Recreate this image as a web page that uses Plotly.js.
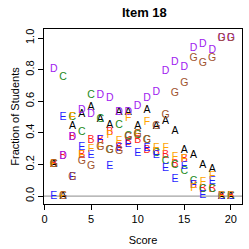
<!DOCTYPE html>
<html>
<head>
<meta charset="utf-8">
<script src="https://cdn.plot.ly/plotly-3.0.1.min.js"></script>
<style>html,body{margin:0;padding:0;background:#fff;}#chart{width:249px;height:249px;}</style>
</head>
<body>
<div id="chart"></div>
<script>
const scores = [1,2,3,4,5,6,7,8,9,10,11,12,13,14,15,16,17,18,19,20];
const optionA = [0.2,0,0.44,0.52,0.56,0.485,0.45,0.53,0.53,0.44,0.545,0.44,0.47,0.41,0.29,0.26,0.195,0.17,0,0];
const optionB = [0.2,0.25,0.37,0.26,0.355,0.35,0.40,0.31,0.34,0.355,0.29,0.275,0.26,0.20,0.23,0.065,0.04,0.045,0,0];
const optionC = [0.2,0.75,0.50,0.40,0.64,0.485,0.29,0.45,0.375,0.385,0.355,0.27,0.22,0.195,0.155,0.09,0.045,0.04,0,0];
const optionD = [0.80,0.25,0.37,0.54,0.52,0.64,0.62,0.53,0.53,0.565,0.615,0.655,0.79,0.845,0.815,0.935,0.96,0.92,1.0,1.0];
const optionE = [0,0.50,0.12,0.31,0.255,0.355,0.19,0.30,0.33,0.27,0.30,0.26,0.175,0.105,0.185,0.07,0.005,0.09,0,0];
const optionF = [0.2,0,0.50,0.26,0.295,0.31,0.385,0.345,0.49,0.39,0.465,0.30,0.30,0.245,0.23,0.05,0.085,0.125,0,0];
const optionG = [0.2,0,0.12,0.22,0.185,0.31,0.29,0.28,0.37,0.39,0.355,0.44,0.51,0.65,0.71,0.87,0.84,0.87,1.0,1.0];
const letters = ["A","B","C","D","E","F","G"];
const series = [optionA, optionB, optionC, optionD, optionE, optionF, optionG];
const colors = ["#000000","#ff2020","#228b22","#a020f0","#1f1fff","#ffa500","#a0522d"];
const xTicks = [0,5,10,15,20];
const yTicks = [0,0.2,0.4,0.6,0.8,1.0];
const yTickText = ["0.0","0.2","0.4","0.6","0.8","1.0"];

const font = "Liberation Sans, Arial, Helvetica, sans-serif";
const traces = series.map((vals, i) => ({
  x: scores,
  y: vals,
  mode: "text",
  type: "scatter",
  text: scores.map(() => letters[i]),
  textposition: "middle center",
  textfont: {family: font, size: 10.5, color: colors[i]},
  hoverinfo: "none",
  showlegend: false,
  cliponaxis: false
}));

const layout = {
  width: 249, height: 249,
  margin: {l: 44, r: 7, t: 29, b: 45, pad: 0},
  paper_bgcolor: "#ffffff",
  plot_bgcolor: "#ffffff",
  font: {family: font, size: 11, color: "#000"},
  title: {text: "<b>Item 18</b>", font: {family: font, size: 13, color: "#000"}, x: 0.58, xanchor: "center", y: 0.95, yanchor: "middle"},
  xaxis: {
    range: [-0.05, 21.2], tickvals: xTicks, ticktext: xTicks.map(String),
    ticks: "outside", ticklen: 5, tickcolor: "#000", tickwidth: 1,
    showgrid: false, zeroline: false, showline: true, mirror: true, linecolor: "#000", linewidth: 1,
    tickfont: {family: font, size: 11, color: "#000"},
    title: {text: "Score", font: {family: font, size: 11, color: "#000"}, standoff: 12}
  },
  yaxis: {
    range: [-0.05, 1.057], tickvals: yTicks, ticktext: yTickText, tickangle: -90,
    ticks: "outside", ticklen: 5, tickcolor: "#000", tickwidth: 1,
    showgrid: false, zeroline: false, showline: true, mirror: true, linecolor: "#000", linewidth: 1,
    tickfont: {family: font, size: 11, color: "#000"},
    title: {text: "Fraction of Students", font: {family: font, size: 11, color: "#000"}, standoff: 1}
  },
  shapes: [{type: "line", xref: "paper", yref: "y", x0: 0, x1: 1, y0: 0, y1: 0, line: {color: "#8c8c8c", width: 1}, layer: "below"}]
};

Plotly.newPlot("chart", traces, layout, {staticPlot: true, displayModeBar: false});
</script>
</body>
</html>
